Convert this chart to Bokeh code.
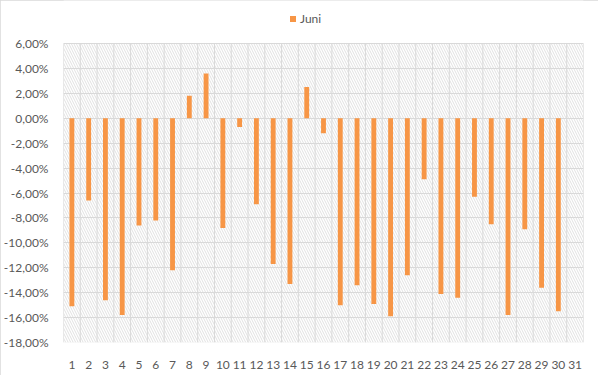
from bokeh.plotting import figure
from bokeh.models import FixedTicker, BoxAnnotation, Range1d, Legend
from bokeh.embed import file_html
from bokeh.resources import INLINE

# ---- data ----
days = list(range(1, 32))
juni = [-15.1, -6.6, -14.6, -15.8, -8.6, -8.2, -12.2, 1.8, 3.6, -8.8,
        -0.7, -6.9, -11.7, -13.3, 2.5, -1.2, -15.0, -13.4, -14.9, -15.9,
        -12.6, -4.9, -14.1, -14.4, -6.3, -8.5, -15.8, -8.9, -13.6, -15.5,
        float("nan")]
series_name = "Juni"
y_ticks = [-18, -16, -14, -12, -10, -8, -6, -4, -2, 0, 2, 4, 6]
y_tick_labels = ["-18,00%", "-16,00%", "-14,00%", "-12,00%", "-10,00%", "-8,00%",
                 "-6,00%", "-4,00%", "-2,00%", "0,00%", "2,00%", "4,00%", "6,00%"]

TEXT = "#595959"
GRID = "#d9d9d9"
ORANGE = "#F79646"
FONT = "Lato"

# ---- layout (pixels) ----
W, H = 598, 375
LEFT, RIGHT, BOTTOM, TOP_PAD = 61, 15, 33, 43
y_lo, y_hi = y_ticks[0], y_ticks[-1]
px_per_unit = (H - BOTTOM - TOP_PAD) / (y_hi - y_lo)
y_top = y_hi + TOP_PAD / px_per_unit   # frame extends above plot area for legend

p = figure(width=W, height=H, output_backend="svg", toolbar_location=None,
           x_range=Range1d(days[0] - 0.5, days[-1] + 0.5),
           y_range=Range1d(y_lo, y_top),
           min_border_left=LEFT, min_border_right=RIGHT, min_border_top=0,
           min_border_bottom=BOTTOM)
p.styles = {"outline": "1px solid #d9d9d9", "outline-offset": "-1px"}
p.outline_line_color = None
p.background_fill_color = "white"
p.border_fill_color = "white"

# hatched plot-area background and border
p.add_layout(BoxAnnotation(bottom=y_lo, top=y_hi, fill_alpha=0, line_color=None,
                           hatch_pattern="\\", hatch_color=GRID, hatch_scale=5,
                           hatch_weight=0.8, level="image"))
p.add_layout(BoxAnnotation(bottom=y_lo, top=y_hi, fill_alpha=0, line_color=GRID,
                           line_width=1, level="underlay"))

# vertical grid at category boundaries, limited to plot area
bounds = [d - 0.5 for d in days] + [days[-1] + 0.5]
p.segment(x0=bounds, x1=bounds, y0=[y_lo] * len(bounds), y1=[y_hi] * len(bounds),
          line_color=GRID, line_width=1, level="underlay")

p.vbar(x=days, top=juni, bottom=0, width=0.29, fill_color=ORANGE, line_color=None)

# square legend swatch: hidden renderer over the same series, used only by the legend
swatch = p.scatter(x=days, y=juni, marker="square", size=6, fill_color=ORANGE,
                   line_color=None, visible=False)

# axes
p.xaxis.ticker = FixedTicker(ticks=days)
p.yaxis.ticker = FixedTicker(ticks=y_ticks)
p.yaxis.major_label_overrides = dict(zip(y_ticks, y_tick_labels))
for ax in (p.xaxis[0], p.yaxis[0]):
    ax.axis_line_color = None
    ax.major_tick_line_color = None
    ax.minor_tick_line_color = None
    ax.major_label_text_color = TEXT
    ax.major_label_text_font = FONT
    ax.major_label_text_font_size = "12px"
p.xaxis.major_label_standoff = 12
p.yaxis.major_label_standoff = 9

# horizontal grid at ticks only
p.ygrid.grid_line_color = GRID
p.ygrid.ticker = FixedTicker(ticks=y_ticks)
p.xgrid.grid_line_color = None

legend = Legend(items=[(series_name, [swatch])], location=(222, 316),
                orientation="horizontal", glyph_width=15, glyph_height=15,
                label_standoff=-3, padding=0, spacing=0, margin=0,
                label_height=12, border_line_color=None,
                background_fill_alpha=0, label_text_color=TEXT,
                label_text_font=FONT, label_text_font_size="12px")
p.add_layout(legend)

open("out.html", "w").write(file_html(p, INLINE))
